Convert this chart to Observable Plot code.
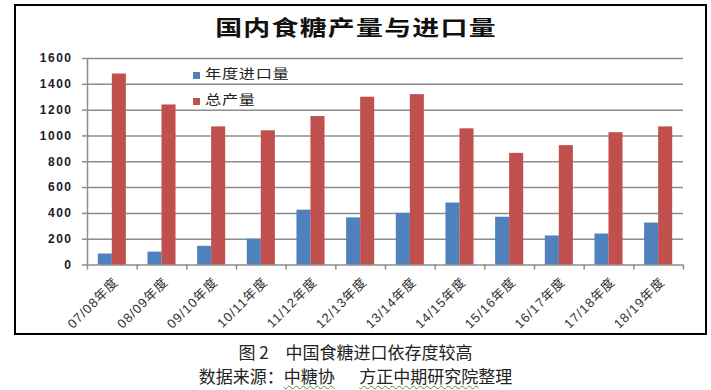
<!DOCTYPE html>
<html>
<head>
<meta charset="utf-8">
<script src="https://cdn.jsdelivr.net/npm/d3@7"></script>
<script src="https://cdn.jsdelivr.net/npm/@observablehq/plot@0.6"></script>
<style>
  body { margin: 0; background: #fff; }
  #wrap { position: relative; width: 711px; height: 390px; overflow: hidden; font-family: "Noto Sans CJK SC", "Liberation Sans", sans-serif; }
  #frame { position: absolute; left: 14px; top: 4px; width: 689px; height: 327px; border: 2px solid #000; }
  #title { position: absolute; left: 0; top: 11px; width: 711px; text-align: center; }
  #title span { display: inline-block; font-size: 21px; font-weight: bold; color: #111; letter-spacing: 1px; transform: scaleX(1.28); }
  #chart { position: absolute; left: 0; top: 0; }
  .leg { position: absolute; left: 193px; font-size: 13px; color: #222; white-space: nowrap; }
  .leg i { display: inline-block; width: 7px; height: 7px; margin-right: 5px; vertical-align: -1px; }
  .leg span { display: inline-block; transform: scaleX(1.25); transform-origin: left center; letter-spacing: 0.5px; }
  #cap { position: absolute; left: 0; top: 340px; width: 711px; text-align: center; font-size: 17px; color: #222; line-height: 24px; }
  .wavy { text-decoration: underline wavy #3a9a3a; text-decoration-thickness: 1px; text-underline-offset: 2px; }
  #chart svg g[aria-label="y-axis tick label"] text { font-weight: bold; letter-spacing: 1.5px; }
  #chart svg g[aria-label="text"] text { letter-spacing: 1px; }
</style>
</head>
<body>
<div id="wrap">
  <div id="chart"></div>
  <div id="frame"></div>
  <div id="title"><span>国内食糖产量与进口量</span></div>
  <div class="leg" style="top:63px"><i style="background:#4f81bd"></i><span>年度进口量</span></div>
  <div class="leg" style="top:89px"><i style="background:#c0504d"></i><span>总产量</span></div>
  <div id="cap">
    <div>图 2　中国食糖进口依存度较高</div>
    <div>数据来源：<span class="wavy">中糖协</span>　&nbsp;&nbsp;<span class="wavy">方正中期研究院</span>整理</div>
  </div>
</div>
<script>
const categories = ["07/08年度", "08/09年度", "09/10年度", "10/11年度", "11/12年度", "12/13年度",
                    "13/14年度", "14/15年度", "15/16年度", "16/17年度", "17/18年度", "18/19年度"];
const importVolume = [85, 100, 145, 200, 425, 365, 400, 480, 370, 225, 240, 325];
const production = [1480, 1240, 1070, 1040, 1150, 1300, 1320, 1055, 865, 925, 1025, 1070];
const yTicks = [0, 200, 400, 600, 800, 1000, 1200, 1400, 1600];

const rows = categories.map((c, i) => ({ i, cat: c, imp: importVolume[i], prod: production[i] }));
const boundaries = d3.range(categories.length + 1);

const gray = "#8c8c8c";
const chart = Plot.plot({
  width: 711,
  height: 335,
  marginLeft: 87,
  marginRight: 28,
  marginTop: 58,
  marginBottom: 70.5,
  style: { background: "transparent", overflow: "visible", fontFamily: "'Liberation Sans', 'Noto Sans CJK SC', sans-serif" },
  x: { type: "linear", domain: [0, categories.length], axis: null },
  y: { domain: [0, 1600], axis: null },
  marks: [
    Plot.gridY(yTicks, { stroke: gray, strokeOpacity: 1, strokeWidth: 1.5 }),
    Plot.rectY(rows, { x1: "i", x2: d => d.i + 1, y: "imp", fill: "#4f81bd", insetLeft: 10.8, insetRight: 24.8 }),
    Plot.rectY(rows, { x1: "i", x2: d => d.i + 1, y: "prod", fill: "#c0504d", insetLeft: 24.8, insetRight: 10.8 }),
    Plot.ruleX([0], { stroke: gray, strokeWidth: 1.5 }),
    Plot.axisY({ ticks: yTicks, tickSize: 5, tickPadding: 10, stroke: gray, strokeWidth: 1.5, fill: "#1a1a2a", fontSize: 12, tickFormat: d => String(d) }),
    Plot.axisX({ ticks: boundaries, tickSize: 5, stroke: gray, strokeWidth: 1.5, fill: "none" }),
    Plot.text(rows, { x: d => d.i + 0.5, y: 0, text: "cat", rotate: -45, textAnchor: "end", dy: 15, dx: 4, fontSize: 13, fill: "#333" })
  ]
});
document.getElementById("chart").appendChild(chart);
</script>
</body>
</html>
